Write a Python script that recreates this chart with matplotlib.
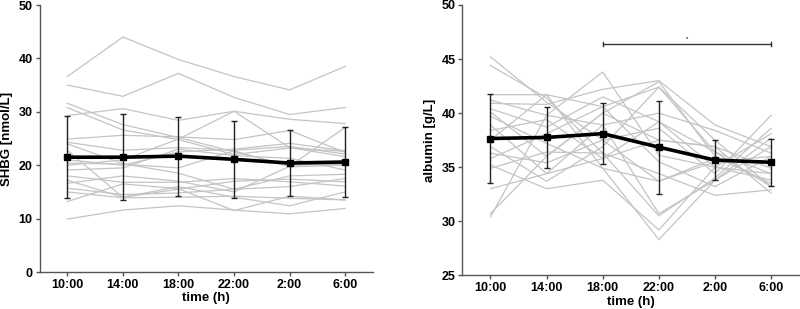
import matplotlib
matplotlib.use("Agg")
import matplotlib.pyplot as plt
import numpy as np

plt.rcParams['font.family'] = ['Liberation Sans', 'DejaVu Sans']
plt.rcParams['font.weight'] = 'bold'

times = ['10:00', '14:00', '18:00', '22:00', '2:00', '6:00']

# SHBG [nmol/L], einzelne Probanden
shbg_subjects = [
    [36.6, 44.0, 39.8, 36.6, 34.1, 38.5],
    [35.0, 32.9, 37.2, 32.7, 29.5, 30.8],
    [31.6, 27.6, 25.2, 22.5, 20.0, 20.2],
    [30.8, 26.6, 24.8, 22.0, 23.2, 22.6],
    [29.3, 30.6, 28.4, 30.1, 28.6, 27.8],
    [24.9, 25.6, 25.3, 24.8, 26.5, 22.4],
    [24.3, 22.8, 23.3, 22.8, 23.5, 22.1],
    [20.0, 21.0, 24.9, 30.1, 23.3, 21.6],
    [21.0, 20.0, 22.5, 23.0, 24.1, 22.7],
    [20.4, 20.2, 19.5, 22.7, 19.7, 20.0],
    [19.1, 19.5, 23.0, 21.8, 21.3, 19.1],
    [17.2, 14.0, 16.0, 14.0, 12.4, 15.0],
    [16.6, 18.0, 17.0, 15.0, 19.8, 27.1],
    [18.0, 16.8, 16.8, 17.5, 16.9, 16.1],
    [15.7, 14.5, 14.8, 15.5, 16.0, 17.5],
    [15.0, 13.9, 14.0, 14.2, 13.8, 13.5],
    [13.2, 16.5, 15.6, 11.5, 14.2, 13.5],
    [9.9, 11.6, 12.4, 11.6, 10.9, 11.9],
    [24.0, 20.3, 18.5, 15.5, 18.0, 18.3],
    [22.8, 14.0, 15.5, 17.0, 17.4, 16.9],
]
shbg_mean = [21.5, 21.5, 21.7, 21.1, 20.4, 20.6]
shbg_sd = [7.7, 8.1, 7.4, 7.2, 6.1, 6.5]

# Albumin [g/L], einzelne Probanden
alb_subjects = [
    [45.2, 41.0, 37.5, 33.7, 35.5, 36.0],
    [44.4, 41.4, 36.3, 30.5, 34.0, 38.6],
    [41.7, 41.7, 40.6, 42.4, 37.5, 33.2],
    [41.2, 39.8, 43.8, 36.1, 35.0, 33.8],
    [40.9, 40.8, 42.2, 43.0, 38.9, 36.9],
    [40.4, 38.7, 41.5, 39.2, 36.4, 34.4],
    [40.1, 36.0, 40.0, 42.9, 36.0, 33.5],
    [39.7, 37.2, 34.9, 28.3, 33.8, 37.7],
    [38.9, 34.4, 38.9, 40.0, 38.4, 36.3],
    [38.4, 39.4, 35.8, 37.5, 36.9, 34.9],
    [36.9, 33.7, 36.9, 42.4, 36.4, 33.2],
    [36.3, 35.4, 37.5, 38.6, 34.4, 39.8],
    [35.8, 38.1, 40.6, 35.5, 33.2, 36.0],
    [35.2, 33.0, 33.8, 29.2, 35.0, 38.1],
    [34.9, 36.4, 36.3, 34.4, 32.4, 32.9],
    [33.0, 34.4, 35.8, 39.2, 35.0, 34.4],
    [30.7, 36.0, 40.0, 37.5, 36.9, 32.6],
    [30.4, 39.8, 38.9, 30.7, 33.8, 36.9],
    [37.5, 41.7, 34.9, 33.7, 35.8, 35.5],
]
alb_mean = [37.65, 37.75, 38.1, 36.85, 35.65, 35.45]
alb_sd = [4.1, 2.85, 2.85, 4.3, 1.85, 2.2]

# Signifikanz 18:00 vs 6:00
sig_pair = (2, 5)
sig_level = 46.4

fig = plt.figure(figsize=(8, 3.09), dpi=100)
ax1 = fig.add_axes([0.0494, 0.1197, 0.4168, 0.8641])
ax2 = fig.add_axes([0.578, 0.109, 0.421, 0.875])

x = np.arange(len(times))

def draw_panel(ax, subjects, mean, sd, ylim, yticks, ylabel):
    for s in subjects:
        ax.plot(x, s, color='#c4c4c4', lw=0.9, zorder=1)
    ax.errorbar(x, mean, yerr=sd, color='black', lw=2.6, marker='s', ms=4,
                ecolor='#222222', elinewidth=1.0, capsize=2.5, capthick=1.0, zorder=3)
    ax.set_xlim(-0.5, 5.5)
    ax.set_ylim(*ylim)
    ax.set_yticks(yticks)
    ax.set_xticks(x)
    ax.set_xticklabels(times)
    for sp in ['top', 'right']:
        ax.spines[sp].set_visible(False)
    for sp in ['left', 'bottom']:
        ax.spines[sp].set_color('#555555')
        ax.spines[sp].set_linewidth(1.0)
    ax.tick_params(axis='both', direction='out', length=3, width=1.0, color='#555555',
                   labelsize=9, pad=2)
    for lab in ax.get_xticklabels() + ax.get_yticklabels():
        lab.set_fontweight('bold')
    ax.set_xlabel('time (h)', fontsize=9.5, fontweight='bold', labelpad=1)
    ax.set_ylabel(ylabel, fontsize=9.5, fontweight='bold', labelpad=4)

draw_panel(ax1, shbg_subjects, shbg_mean, shbg_sd, (0, 50), [0, 10, 20, 30, 40, 50],
           'SHBG [nmol/L]')
draw_panel(ax2, alb_subjects, alb_mean, alb_sd, (25, 50), [25, 30, 35, 40, 45, 50],
           'albumin [g/L]')

# Signifikanzbalken
ax2.plot([sig_pair[0], sig_pair[1]], [sig_level, sig_level], color='#333333', lw=1.0)
for xi in sig_pair:
    ax2.plot([xi, xi], [sig_level - 0.2, sig_level + 0.2], color='#333333', lw=1.0)
ax2.text((sig_pair[0] + sig_pair[1]) / 2, sig_level + 0.15, '*', fontsize=4,
         ha='center', va='bottom', color='#333333')

fig.savefig('out.png', dpi=100)
